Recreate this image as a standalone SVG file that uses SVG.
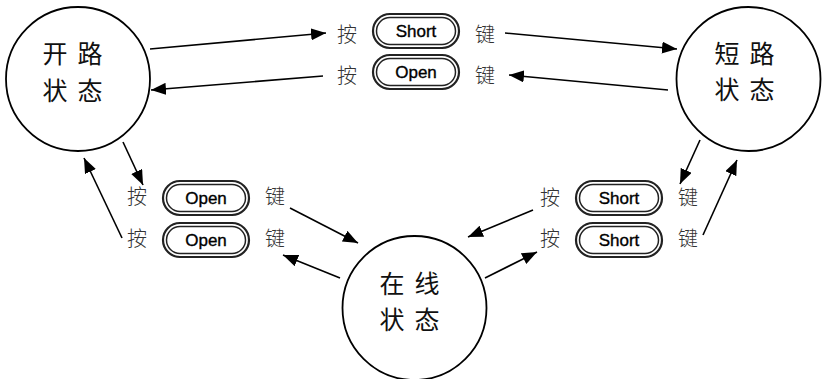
<svg xmlns="http://www.w3.org/2000/svg" width="824" height="379" viewBox="0 0 824 379">
<defs>
<marker id="ah" viewBox="0 0 15 12" refX="15" refY="6" markerWidth="15" markerHeight="12" markerUnits="userSpaceOnUse" orient="auto">
<path d="M0,0 L15,6 L0,12 z" fill="#000"/>
</marker>
</defs>
<style>
.state{fill:#fff;stroke:#000;stroke-width:1.8}
.big{font-family:"Noto Sans CJK SC",sans-serif;font-size:25px;fill:#111;text-anchor:middle}
.small{font-family:"Noto Sans CJK SC",sans-serif;font-size:20px;fill:#333;text-anchor:middle;font-weight:300}
.bo{fill:#fff;stroke:#222;stroke-width:2.2}
.bi{fill:#fff;stroke:#222;stroke-width:1.5}
.bt{font-family:"Liberation Sans",Arial,sans-serif;font-size:17px;fill:#000;stroke:#000;stroke-width:0.35;text-anchor:middle}
.conn line{stroke:#000;stroke-width:1.6;marker-end:url(#ah)}
</style>
<rect width="824" height="379" fill="#fff"/>

<g id="open-state">
<circle class="state" cx="78" cy="79" r="72"/>
<text class="big" x="55" y="63">开</text><text class="big" x="90" y="63">路</text>
<text class="big" x="55" y="100">状</text><text class="big" x="90" y="100">态</text>
</g>
<g id="short-state">
<circle class="state" cx="748.5" cy="79" r="72"/>
<text class="big" x="727" y="63">短</text><text class="big" x="762" y="63">路</text>
<text class="big" x="727" y="99">状</text><text class="big" x="762" y="99">态</text>
</g>
<g id="online-state">
<circle class="state" cx="414.5" cy="308" r="72"/>
<text class="big" x="392" y="293">在</text><text class="big" x="427" y="293">线</text>
<text class="big" x="392" y="329">状</text><text class="big" x="427" y="329">态</text>
</g>

<g id="label-top-short">
<text class="small" x="347" y="42">按</text>
<rect class="bo" x="373" y="14" width="86" height="34" rx="17"/>
<rect class="bi" x="376.5" y="17.5" width="79" height="27" rx="13.5"/>
<text class="bt" x="416" y="37">Short</text>
<text class="small" x="485" y="42">键</text>
</g>
<g id="label-top-open">
<text class="small" x="347" y="83">按</text>
<rect class="bo" x="373" y="55" width="86" height="34" rx="17"/>
<rect class="bi" x="376.5" y="58.5" width="79" height="27" rx="13.5"/>
<text class="bt" x="416" y="78">Open</text>
<text class="small" x="485" y="83">键</text>
</g>
<g id="label-left-open-1">
<text class="small" x="137" y="204">按</text>
<rect class="bo" x="163" y="181" width="86" height="34" rx="17"/>
<rect class="bi" x="166.5" y="184.5" width="79" height="27" rx="13.5"/>
<text class="bt" x="206" y="204">Open</text>
<text class="small" x="275" y="204">键</text>
</g>
<g id="label-left-open-2">
<text class="small" x="137" y="246">按</text>
<rect class="bo" x="163" y="223" width="86" height="34" rx="17"/>
<rect class="bi" x="166.5" y="226.5" width="79" height="27" rx="13.5"/>
<text class="bt" x="206" y="246">Open</text>
<text class="small" x="275" y="246">键</text>
</g>
<g id="label-right-short-1">
<text class="small" x="550" y="205">按</text>
<rect class="bo" x="576" y="181" width="86" height="34" rx="17"/>
<rect class="bi" x="579.5" y="184.5" width="79" height="27" rx="13.5"/>
<text class="bt" x="619" y="204">Short</text>
<text class="small" x="688" y="205">键</text>
</g>
<g id="label-right-short-2">
<text class="small" x="550" y="246">按</text>
<rect class="bo" x="576" y="223" width="86" height="34" rx="17"/>
<rect class="bi" x="579.5" y="226.5" width="79" height="27" rx="13.5"/>
<text class="bt" x="619" y="246">Short</text>
<text class="small" x="688" y="246">键</text>
</g>

<g id="connectors" class="conn">
<line x1="150" y1="49" x2="326" y2="33"/>
<line x1="505" y1="33" x2="677" y2="49"/>
<line x1="668" y1="90" x2="509" y2="75"/>
<line x1="323" y1="76" x2="151" y2="90"/>
<line x1="123" y1="142" x2="143" y2="185"/>
<line x1="122" y1="238" x2="84" y2="158"/>
<line x1="700" y1="140" x2="680" y2="184"/>
<line x1="703" y1="235" x2="737" y2="160"/>
<line x1="290" y1="208" x2="358" y2="243"/>
<line x1="340" y1="278" x2="283" y2="255"/>
<line x1="533" y1="210" x2="468" y2="237"/>
<line x1="485" y1="278" x2="537" y2="252"/>
</g>
</svg>
